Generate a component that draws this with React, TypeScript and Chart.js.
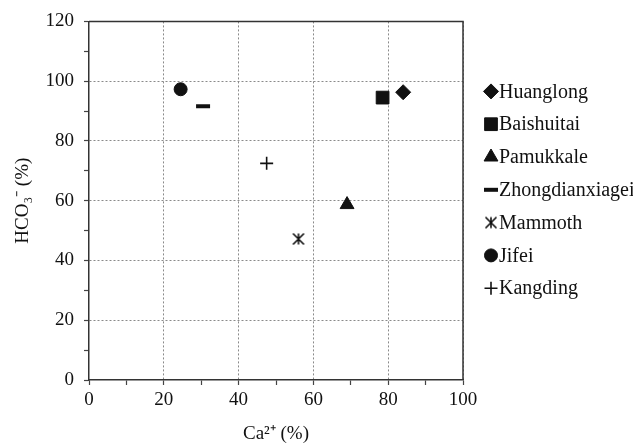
import React, { useEffect, useRef } from 'react';
import { Chart, registerables } from 'chart.js';
import { drawPoint } from 'chart.js/helpers';

Chart.register(...registerables);

const sites = ['Huanglong', 'Baishuitai', 'Pamukkale', 'Zhongdianxiagei', 'Mammoth', 'Jifei', 'Kangding'];
const caPercent = [84, 78.5, 69, 30.5, 56, 24.5, 47.5];
const hco3Percent = [96.3, 94.5, 58.7, 91.6, 47.2, 97.3, 72.5];
const markerStyles = ['rectRot', 'rect', 'triangle', 'line', 'asterisk', 'circle', 'cross'];
const markerRadii = [7.5, 9, 8, 7, 7, 6.5, 6.5];
const markerBorders = [1, 1, 1, 4, 1.6, 1, 1.6];

const xTitle = 'Ca²⁺ (%)';
const yTitle = 'HCO₃⁻ (%)';

const FONT = '"Liberation Serif", "Times New Roman", serif';

function makeAsterisk(size: number): HTMLCanvasElement {
  const c = document.createElement('canvas');
  c.width = size;
  c.height = size;
  const g = c.getContext('2d')!;
  g.strokeStyle = '#111';
  g.lineWidth = 1.6;
  g.lineCap = 'butt';
  const m = 1.5;
  g.beginPath();
  g.moveTo(m, m);
  g.lineTo(size - m, size - m);
  g.moveTo(size - m, m);
  g.lineTo(m, size - m);
  g.moveTo(size / 2, m);
  g.lineTo(size / 2, size - m);
  g.stroke();
  return c;
}

const framePlugin = {
  id: 'frameAndLegend',
  afterDraw(chart: any) {
    const { ctx, chartArea: a } = chart;
    ctx.save();
    ctx.strokeStyle = '#333';
    ctx.lineWidth = 1.5;
    ctx.beginPath();
    ctx.moveTo(a.left, a.top);
    ctx.lineTo(a.right, a.top);
    ctx.lineTo(a.right, a.bottom);
    ctx.stroke();

    chart.data.datasets.forEach((ds: any, i: number) => {
      const x = a.right + 28;
      const y = a.top + 70 + i * 32.8;
      ctx.save();
      ctx.fillStyle = '#111';
      ctx.strokeStyle = '#111';
      ctx.lineWidth = ds.borderWidth;
      drawPoint(ctx, { pointStyle: ds.pointStyle, radius: ds.pointRadius, borderWidth: ds.borderWidth, rotation: 0 } as any, x, y);
      ctx.restore();
      ctx.fillStyle = '#111';
      ctx.font = '20px ' + FONT;
      ctx.textBaseline = 'middle';
      ctx.textAlign = 'left';
      ctx.fillText(ds.label, x + 8, y + 1);
    });
    ctx.restore();
  },
};

export default function App() {
  const ref = useRef<HTMLCanvasElement>(null);

  useEffect(() => {
    document.body.style.margin = '0';
    const asterisk = makeAsterisk(14);
    const datasets = sites.map((name, i) => ({
      label: name,
      data: [{ x: caPercent[i], y: hco3Percent[i] }],
      pointStyle: markerStyles[i] === 'asterisk' ? asterisk : markerStyles[i],
      pointRadius: markerRadii[i],
      pointHoverRadius: markerRadii[i],
      borderWidth: markerBorders[i],
      backgroundColor: '#111',
      borderColor: '#111',
    }));

    const gridColor = (c: any) =>
      c.tick && c.tick.value % 20 === 0 && c.tick.value !== 0 ? '#8a8a8a' : 'rgba(0,0,0,0)';

    const chart = new Chart(ref.current!, {
      type: 'scatter',
      data: { datasets: datasets as any },
      plugins: [framePlugin],
      options: {
        responsive: false,
        animation: false,
        layout: { padding: { left: 0, top: 20, right: 170, bottom: 0 } },
        plugins: { legend: { display: false }, tooltip: { enabled: false } },
        scales: {
          x: {
            type: 'linear',
            min: 0,
            max: 100,
            afterFit: (s: any) => { s.height = 66; },
            ticks: {
              stepSize: 10,
              autoSkip: false,
              maxRotation: 0,
              padding: 4,
              color: '#111',
              font: { size: 19, family: FONT },
              callback: (v: any) => (v % 20 === 0 ? String(v) : ''),
            },
            grid: {
              color: gridColor,
              lineWidth: 1,
              tickColor: '#444',
              tickLength: 5,
              tickWidth: 1.2,
            },
            border: { display: true, color: '#333', width: 1.5, dash: [2, 2] },
            title: {
              display: true,
              text: xTitle,
              color: '#111',
              font: { size: 19, family: FONT },
              padding: { top: 0, bottom: 1 },
            },
          },
          y: {
            type: 'linear',
            min: 0,
            max: 120,
            afterFit: (s: any) => { s.width = 89; },
            ticks: {
              stepSize: 10,
              autoSkip: false,
              padding: 10,
              color: '#111',
              font: { size: 19, family: FONT },
              callback: (v: any) => (v % 20 === 0 ? String(v) : ''),
            },
            grid: {
              color: gridColor,
              lineWidth: 1,
              tickColor: '#444',
              tickLength: 5,
              tickWidth: 1.2,
            },
            border: { display: true, color: '#333', width: 1.5, dash: [2, 2] },
            title: {
              display: true,
              text: yTitle,
              color: '#111',
              font: { size: 19, family: FONT },
              padding: { top: 12, bottom: 0 },
            },
          },
        },
      },
    });
    return () => chart.destroy();
  }, []);

  return (
    <div style={{ width: 633, height: 446, background: '#fff' }}>
      <canvas ref={ref} width={633} height={446} />
    </div>
  );
}
